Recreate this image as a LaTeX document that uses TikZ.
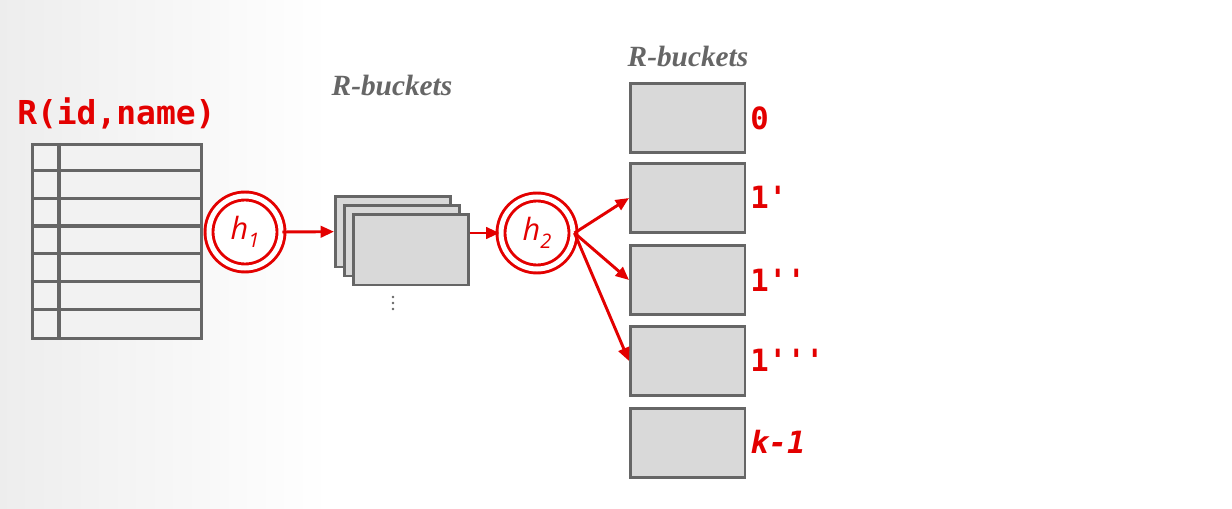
\documentclass[tikz,border=0pt]{standalone}
\usepackage{fontspec}
\setmainfont{Liberation Serif}
\setsansfont{Open Sans}
\setmonofont{DejaVu Sans Mono}
\usetikzlibrary{arrows.meta}
\definecolor{hred}{HTML}{E30000}
\definecolor{edge}{HTML}{666666}
\definecolor{boxfill}{HTML}{D9D9D9}
\definecolor{tabfill}{HTML}{F2F2F2}
\newcommand{\hsub}[1]{h\raisebox{-0.45ex}{\fontsize{15}{15}\selectfont #1}}
\begin{document}
\begin{tikzpicture}[x=0.75pt,y=-0.75pt,
  bucket/.style={draw=edge,line width=2pt,fill=boxfill,rectangle,minimum width=86pt,minimum height=52pt,inner sep=0pt,anchor=north west},
  hashfn/.style={circle,draw=hred,line width=2.2pt,double=white,double distance=3.75pt,fill=white,minimum size=54pt,inner sep=0pt,text=hred,font=\sffamily\itshape\fontsize{23}{26}\selectfont},
  lbl/.style={text=hred,font=\ttfamily\bfseries\fontsize{23}{26}\selectfont,anchor=west,inner sep=0pt},
  title/.style={text=edge,font=\bfseries\itshape\fontsize{22}{26}\selectfont,inner sep=0pt},
  flow/.style={draw=hred,line width=2.2pt,-{Triangle[length=10pt,width=8.5pt]}}]
\useasboundingbox (0,0) rectangle (1232,509);
\shade[left color=black!7,right color=white] (0,0) rectangle (330,509);
\fill[white] (330,0) rectangle (1232,509);
% table
\node[draw=edge,line width=2.4pt,fill=tabfill,rectangle,minimum width=126.75pt,minimum height=145.5pt,inner sep=0pt,anchor=north west] (tbl) at (31,143) {};
\foreach \i in {1,...,6} {\draw[edge,line width=2.4pt] (31,143+\i*27.7) -- (200,143+\i*27.7);}
\draw[edge,line width=2.4pt] (59,143) -- (59,337);
\node[text=hred,font=\ttfamily\bfseries\fontsize{24.7}{28}\selectfont,anchor=west,inner sep=0pt] (rname) at (17,113) {R(id,name)};
% h1
\node[hashfn] (h1) at (245,232) {\hsub{1}};
% stack
\node[bucket,minimum width=86.25pt,minimum height=53pt] (b1) at (334,195) {};
\node[bucket,minimum width=86.25pt,minimum height=53pt] (b2) at (343,204) {};
\node[bucket,minimum width=86.25pt,minimum height=53pt] (b3) at (352,213) {};
\foreach \y in {297,303,309} {\fill[edge] (393,\y) circle (1.1pt);}
\coordinate (dots) at (393,303);
\node[title] (t1) at (392,85) {R-buckets};
% h2
\node[hashfn] (h2) at (537,233) {\hsub{2}};
% right buckets
\node[bucket] (r0) at (629,82) {};
\node[bucket] (r1) at (629,162) {};
\node[bucket] (r2) at (629,244) {};
\node[bucket] (r3) at (629,325) {};
\node[bucket] (r4) at (629,407) {};
\node[title] (t2) at (688,57) {R-buckets};
\node[lbl] (l0) at (750,118) {0};
\node[lbl] (l1) at (750,197) {1'};
\node[lbl] (l2) at (750,280) {1''};
\node[lbl] (l3) at (750,360) {1'''};
\node[lbl,font=\ttfamily\bfseries\itshape\fontsize{23}{26}\selectfont] (l4) at (750,442) {k-1};
% arrows
\draw[flow] (h1.east) -- (b1.west);
\draw[flow] (b3.east |- h2.west) -- (h2.west);
\draw[flow] (h2.east) -- (r1.west);
\draw[flow] (h2.east) -- (r2.west);
\draw[flow] (h2.east) -- (r3.west);
\end{tikzpicture}
\end{document}
